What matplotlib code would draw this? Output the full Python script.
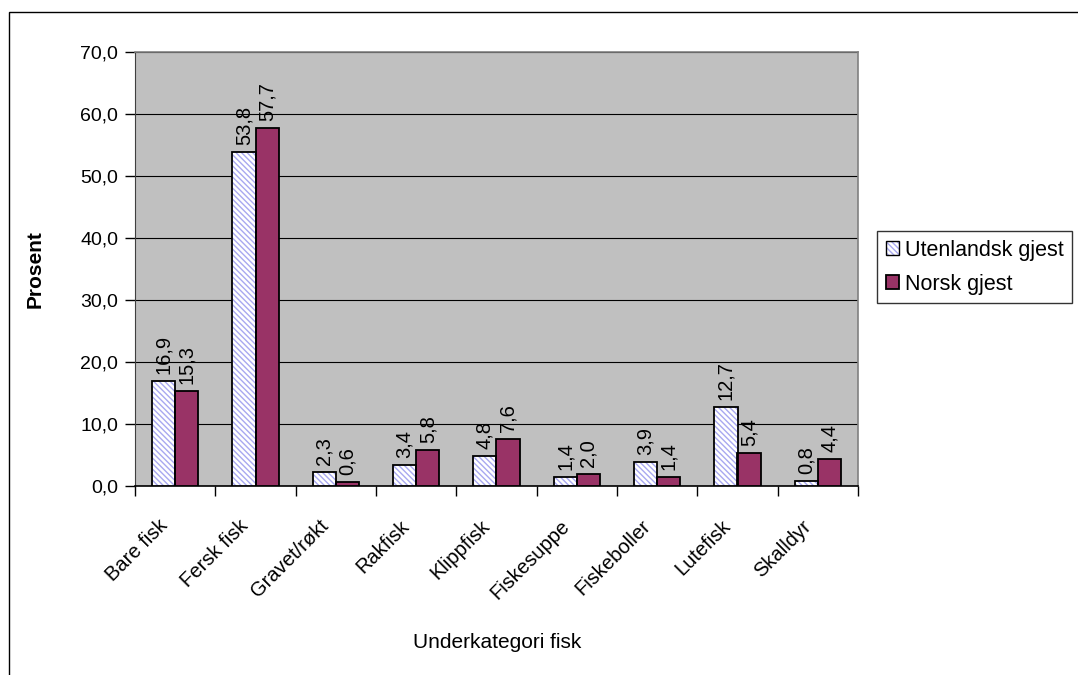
import matplotlib
matplotlib.use("Agg")
import matplotlib.pyplot as plt
import matplotlib.transforms as mtransforms
import numpy as np
from matplotlib.patches import Rectangle, Patch
from matplotlib.legend_handler import HandlerTuple

plt.rcParams['font.family'] = ['Liberation Sans', 'DejaVu Sans']
plt.rcParams['hatch.linewidth'] = 1.0

categories = ["Bare fisk", "Fersk fisk", "Gravet/røkt", "Rakfisk", "Klippfisk",
              "Fiskesuppe", "Fiskeboller", "Lutefisk", "Skalldyr"]
utenlandsk = [16.9, 53.8, 2.3, 3.4, 4.8, 1.4, 3.9, 12.7, 0.8]
norsk = [15.3, 57.7, 0.6, 5.8, 7.6, 2.0, 1.4, 5.4, 4.4]
yticks = [0, 10, 20, 30, 40, 50, 60, 70]

HATCH = '\\\\\\\\\\\\'
HATCH_COLOR = '#a8a8f0'
PLUM = '#993366'

W, H = 1078, 675
fig = plt.figure(figsize=(W / 100, H / 100), dpi=100)
fig.patch.set_facecolor('white')

# outer chart frame (runs off the right and bottom edges)
fig.patches.append(Rectangle((9 / W, -0.2), 1.3, 1 - 12 / H + 0.2,
                             transform=fig.transFigure, fill=False,
                             edgecolor='black', linewidth=1.0, zorder=0))

left, right, top, bottom = 135, 858, 52, 486
ax = fig.add_axes([left / W, 1 - bottom / H, (right - left) / W, (bottom - top) / H])
ax.set_facecolor('#c0c0c0')

x = np.arange(len(categories))
bw = 0.29
# hatched fill in light blue, then black outline on top
ax.bar(x - bw / 2, utenlandsk, bw, facecolor='white', edgecolor=HATCH_COLOR,
       hatch=HATCH, linewidth=0, zorder=3)
b1 = ax.bar(x - bw / 2, utenlandsk, bw, fill=False, edgecolor='black',
            linewidth=1.3, zorder=3.5)
b2 = ax.bar(x + bw / 2, norsk, bw, facecolor=PLUM, edgecolor='black',
            linewidth=1.3, zorder=3)

for bars, vals in ((b1, utenlandsk), (b2, norsk)):
    for rect, v in zip(bars, vals):
        ax.annotate(f"{v:.1f}".replace('.', ','),
                    (rect.get_x() + rect.get_width() / 2, v),
                    xytext=(0, 5), textcoords='offset points',
                    rotation=90, ha='center', va='bottom', fontsize=14.5, zorder=4)

ax.set_xlim(-0.5, len(categories) - 0.5)
ax.set_ylim(0, 70)
ax.set_yticks(yticks)
ax.set_yticklabels([f"{v:.1f}".replace('.', ',') for v in yticks], fontsize=14)
ax.yaxis.grid(True, color='black', linewidth=0.8, zorder=1)
ax.set_axisbelow(True)

# category ticks sit at group boundaries; labels at centres
ax.set_xticks(np.arange(len(categories) + 1) - 0.5)
ax.set_xticklabels([])
ax.set_xticks(x, minor=True)
ax.set_xticklabels(categories, minor=True, rotation=45, ha='right', va='center',
                   rotation_mode='anchor', fontsize=14.5)
ax.tick_params(axis='x', which='minor', length=0, pad=0)
ax.tick_params(axis='x', which='major', length=7, color='black', width=1)
ax.tick_params(axis='y', length=7, width=1, color='black', pad=5)
shift = mtransforms.ScaledTranslation(-10 / 100, -37 / 100, fig.dpi_scale_trans)
for lab in ax.get_xticklabels(minor=True):
    lab.set_transform(lab.get_transform() + shift)

for s in ('top', 'right'):
    ax.spines[s].set_color('#808080')
    ax.spines[s].set_linewidth(1.2)
ax.spines['left'].set_color('#404040')
ax.spines['bottom'].set_color('black')
ax.spines['bottom'].set_linewidth(1.2)

ax.set_ylabel('Prosent', fontsize=15, fontweight='bold')
ax.yaxis.set_label_coords((45 - left) / (right - left), 0.5)
fig.text(497 / W, 1 - 642 / H, 'Underkategori fisk', ha='center', va='center',
         fontsize=15)

h1 = (Patch(facecolor='white', edgecolor=HATCH_COLOR, hatch=HATCH, linewidth=0),
      Patch(fill=False, edgecolor='black', linewidth=1.0))
h2 = Patch(facecolor=PLUM, edgecolor='black', linewidth=1.3)
leg = fig.legend(handles=[h1, h2], labels=['Utenlandsk gjest', 'Norsk gjest'],
                 handler_map={tuple: HandlerTuple(ndivide=1, pad=0)},
                 loc='upper left',
                 bbox_to_anchor=(877 / W, 1 - 231 / H), fontsize=15.5,
                 frameon=True, fancybox=False, shadow=False,
                 handlelength=0.6, handleheight=0.6, handletextpad=0.3,
                 borderpad=0.4, labelspacing=0.6, borderaxespad=0)
leg.get_frame().set_edgecolor('black')
leg.get_frame().set_linewidth(1.0)

fig.savefig('out.png', dpi=100)
